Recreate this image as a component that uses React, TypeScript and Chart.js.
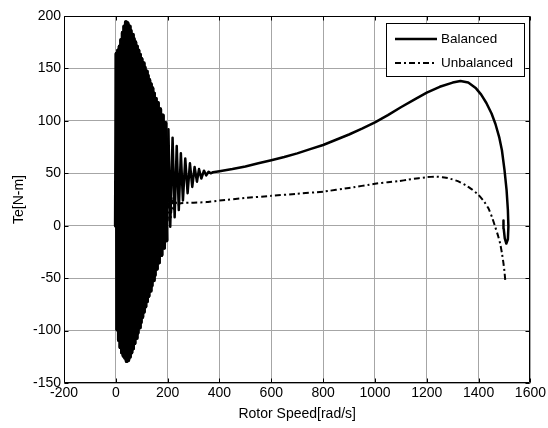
import React, { useEffect, useRef } from "react";
import { Chart, registerables } from "chart.js";

Chart.register(...registerables);

const seriesLabels = ["Balanced", "Unbalanced"];
const xAxisTitle = "Rotor Speed[rad/s]";
const yAxisTitle = "Te[N-m]";
const xRange = [-200, 1600];
const yRange = [-150, 200];
const xStep = 200;
const yStep = 50;

// Balanced: start-up oscillation (speed, torque)
const balancedStartSpeed = [
  0, 3, 6, 9, 12, 15, 18, 21, 24, 27, 30, 33, 36, 39, 42, 45, 48, 51, 54, 57, 60,
  63, 66, 69, 72, 75, 78, 81, 84, 87, 90, 93, 96, 99, 102, 105, 108, 111, 114, 117,
  120, 123, 126, 129, 132, 135, 138, 141, 144, 147, 150, 154, 158, 162, 166, 171,
  176, 181, 186, 191, 196, 203, 210, 219, 227, 235, 243, 251, 259, 268, 277,
  286, 295, 304, 313, 321, 330, 340, 349, 358, 366, 375,
];
const balancedStartTorque = [
  0, 164, -99, 167, -109, 171, -116, 177, -121, 184, -124, 190, -126, 194, -129,
  193, -128, 190, -125, 186, -121, 182, -117, 178, -112, 175, -107, 171, -102, 167,
  -97, 163, -92, 159, -87, 155, -82, 151, -77, 147, -72, 143, -67, 139, -62, 135,
  -57, 131, -52, 126, -47, 121, -41, 117, -35, 111, -28, 105, -21, 98, -14, 92,
  -1, 84, 8, 76, 15, 69, 24, 64, 31, 59.5, 37, 56, 42, 54, 45, 52.5, 48, 51.5, 50, 51,
];
// Balanced: steady acceleration part
const balancedRunSpeed = [
  400, 450, 500, 550, 600, 650, 700, 750, 800, 850, 900, 950, 1000, 1050, 1100,
  1150, 1200, 1250, 1300, 1330, 1360, 1390, 1410, 1430, 1450, 1465, 1480, 1490,
  1500, 1508, 1513, 1515, 1513, 1507, 1501, 1497, 1496,
];
const balancedRunTorque = [
  52, 54, 56.5, 59.5, 62.5, 65.5, 69, 73, 77, 82, 87, 92.5, 98.5, 105.5, 113, 120,
  127, 132.5, 136.5, 138, 136.5, 131, 125, 117, 107, 97, 84, 72, 53, 34, 15, -1,
  -13, -17, -12, -3, 5,
];

// Unbalanced: start-up oscillation
const unbalancedStartSpeed = [
  0, 5, 12, 20, 28, 36, 44, 52, 60, 70, 80, 90, 100, 110, 120, 130, 140, 150, 160,
  170, 180, 190, 200, 206, 212, 218, 224, 230, 238, 250,
];
const unbalancedStartTorque = [
  0, 90, -60, 110, -80, 115, -85, 110, -75, 100, -65, 90, -50, 80, -40, 70, -25, 60,
  -10, 50, 0, 40, 5, 30, 8, 26, 14, 23, 19, 21.5,
];
// Unbalanced: steady acceleration part
const unbalancedRunSpeed = [
  300, 350, 400, 500, 600, 700, 800, 900, 1000, 1050, 1092, 1130, 1169, 1200, 1233,
  1260, 1285, 1320, 1349, 1375, 1400, 1420, 1438, 1452, 1464, 1475, 1483, 1490,
  1496, 1500, 1503,
];
const unbalancedRunTorque = [
  22, 22.5, 24, 26.5, 28.5, 30.5, 32.5, 36, 40, 41.5, 42.5, 44, 45.3, 46.3, 46.8,
  46.3, 45.2, 42.5, 38.8, 34.5, 29.3, 23.5, 16.6, 8, -1, -9.5, -16.8, -26, -36, -44,
  -52.5,
];

const FONT = "'Liberation Sans', Arial, sans-serif";
const DASH_DOT = [6, 3, 2, 3];
const DENSE_POINTS = 61;

function toPoints(xs: number[], ys: number[]) {
  return xs.map((x, i) => ({ x, y: ys[i] }));
}

const framePlugin = {
  id: "frame",
  afterDatasetsDraw(chart: any) {
    const { ctx, chartArea } = chart;
    const { left, right, top, bottom } = chartArea;
    const xs = chart.scales.x;
    const ys = chart.scales.y;
    ctx.save();
    ctx.strokeStyle = "#000";
    ctx.lineWidth = 1;
    const L = Math.round(left) + 0.5;
    const R = Math.round(right) - 0.5;
    const T = Math.round(top) + 0.5;
    const B = Math.round(bottom) - 0.5;
    ctx.beginPath();
    ctx.rect(L, T, R - L, B - T);
    const tl = 4;
    xs.ticks.forEach((t: any) => {
      const px = Math.round(xs.getPixelForValue(t.value)) + 0.5;
      ctx.moveTo(px, B);
      ctx.lineTo(px, B - tl);
      ctx.moveTo(px, T);
      ctx.lineTo(px, T + tl);
    });
    ys.ticks.forEach((t: any) => {
      const py = Math.round(ys.getPixelForValue(t.value)) + 0.5;
      ctx.moveTo(L, py);
      ctx.lineTo(L + tl, py);
      ctx.moveTo(R, py);
      ctx.lineTo(R - tl, py);
    });
    ctx.stroke();
    ctx.restore();
  },
};

const legendPlugin = {
  id: "boxLegend",
  afterDraw(chart: any) {
    const { ctx } = chart;
    const x0 = 386.5;
    const y0 = 23.5;
    const w = 138;
    const h = 53;
    ctx.save();
    ctx.fillStyle = "#fff";
    ctx.fillRect(x0, y0, w, h);
    ctx.strokeStyle = "#000";
    ctx.lineWidth = 1;
    ctx.strokeRect(x0, y0, w, h);
    const rows = [39, 63];
    chart.data.datasets.forEach((ds: any, i: number) => {
      const y = rows[i];
      ctx.beginPath();
      ctx.lineWidth = i === 0 ? 2.5 : 2;
      ctx.setLineDash(ds.borderDash || []);
      ctx.moveTo(395, y);
      ctx.lineTo(437, y);
      ctx.stroke();
      ctx.setLineDash([]);
      ctx.fillStyle = "#000";
      ctx.font = `13.5px ${FONT}`;
      ctx.textBaseline = "middle";
      ctx.textAlign = "left";
      ctx.fillText(ds.label, 441, y);
    });
    ctx.restore();
  },
};

const tickFont = { family: FONT, size: 14 };

// stroke each dense start-up swing on its own (thicker) so the mass reads solid
function startupWidth(c: any) {
  if (c.p1DataIndex < DENSE_POINTS) return c.p0DataIndex % 2 ? 4 : 3.99;
  return 2.5;
}

export default function App() {
  const ref = useRef<HTMLCanvasElement | null>(null);
  useEffect(() => {
    if (!ref.current) return;
    const balanced = [
      ...toPoints(balancedStartSpeed, balancedStartTorque),
      ...toPoints(balancedRunSpeed, balancedRunTorque),
    ];
    const unbalanced = [
      ...toPoints(unbalancedStartSpeed, unbalancedStartTorque),
      ...toPoints(unbalancedRunSpeed, unbalancedRunTorque),
    ];
    const chart = new Chart(ref.current, {
      type: "scatter",
      data: {
        datasets: [
          {
            label: seriesLabels[0],
            data: balanced,
            showLine: true,
            borderColor: "#000",
            backgroundColor: "#000",
            borderWidth: 2.5,
            pointRadius: 0,
            borderJoinStyle: "round",
            borderCapStyle: "round",
            tension: 0,
            segment: { borderWidth: startupWidth },
          },
          {
            label: seriesLabels[1],
            data: unbalanced,
            showLine: true,
            borderColor: "#000",
            backgroundColor: "#000",
            borderWidth: 2,
            borderDash: DASH_DOT,
            pointRadius: 0,
            borderJoinStyle: "round",
            tension: 0.1,
          },
        ],
      },
      plugins: [framePlugin, legendPlugin],
      options: {
        animation: false,
        responsive: false,
        maintainAspectRatio: false,
        layout: { padding: { top: 16, right: 16, left: 0, bottom: 0 } },
        plugins: {
          legend: { display: false },
          tooltip: { enabled: false },
        },
        scales: {
          x: {
            type: "linear",
            min: xRange[0],
            max: xRange[1],
            ticks: {
              stepSize: xStep,
              color: "#000",
              padding: 2,
              font: tickFont,
              maxRotation: 0,
              callback: (v: any) => String(v),
            },
            grid: { color: "#a6a6a6", drawTicks: false, lineWidth: 1 },
            border: { display: false },
            title: {
              display: true,
              text: xAxisTitle,
              color: "#000",
              font: tickFont,
              padding: { top: 0, bottom: 5 },
            },
            afterFit: (s: any) => {
              s.height = 45;
            },
          },
          y: {
            type: "linear",
            min: yRange[0],
            max: yRange[1],
            ticks: {
              stepSize: yStep,
              color: "#000",
              padding: 3,
              font: tickFont,
              callback: (v: any) => String(v),
            },
            grid: { color: "#a6a6a6", drawTicks: false, lineWidth: 1 },
            border: { display: false },
            title: {
              display: true,
              text: yAxisTitle,
              color: "#000",
              font: tickFont,
              padding: { top: 11, bottom: 0 },
            },
            afterFit: (s: any) => {
              s.width = 64;
            },
          },
        },
      },
    } as any);
    return () => chart.destroy();
  }, []);
  return (
    <div style={{ position: "absolute", left: 0, top: 0, width: 548, height: 428, background: "#fff" }}>
      <canvas ref={ref} width={548} height={428} style={{ display: "block" }} />
    </div>
  );
}
